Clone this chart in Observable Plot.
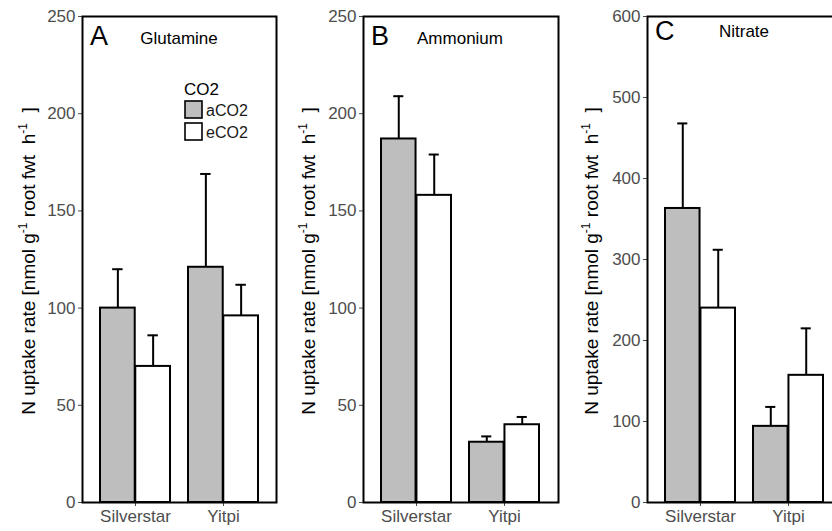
<!DOCTYPE html>
<html><head><meta charset="utf-8">
<script src="https://cdn.jsdelivr.net/npm/d3@7"></script>
<script src="https://cdn.jsdelivr.net/npm/@observablehq/plot@0.6"></script>
<style>
body{margin:0;background:#fff;}
#wrap{position:relative;width:832px;height:531px;overflow:hidden;display:flex;flex-wrap:nowrap;background:#fff;}
#wrap svg{flex:none;display:block;}
</style></head><body><div id="wrap"></div>
<script>
const cultivars = ["Silverstar", "Yitpi"];
const co2Levels = ["aCO2", "eCO2"];
const panelLetters = ["A", "B", "C"];
const panelTitles = ["Glutamine", "Ammonium", "Nitrate"];
const yMax = [250, 250, 600];
const yTicks = [[0, 50, 100, 150, 200, 250], [0, 50, 100, 150, 200, 250], [0, 100, 200, 300, 400, 500, 600]];
// order: Silverstar-aCO2, Silverstar-eCO2, Yitpi-aCO2, Yitpi-eCO2
const glutamineMean = [100, 70, 121, 96];
const glutamineSE = [20, 16, 48, 16];
const ammoniumMean = [187, 158, 31, 40];
const ammoniumSE = [22, 21, 3, 4];
const nitrateMean = [363, 240, 94, 157];
const nitrateSE = [105, 72, 24, 58];
const yLabelParts = ["N uptake rate [nmol g", "-1", " root fwt  h", "-1", "  ]"];

const series = [[glutamineMean, glutamineSE], [ammoniumMean, ammoniumSE], [nitrateMean, nitrateSE]];
const dims = [{width: 280, ml: 82, mr: 4}, {width: 283, ml: 83, mr: 5}, {width: 283, ml: 84, mr: 4}];
const FONT = "Liberation Sans, Arial, Helvetica, sans-serif";
const wrap = document.getElementById("wrap");

series.forEach(([means, ses], k) => {
  const rows = means.map((m, i) => ({cultivar: cultivars[i >> 1], co2: co2Levels[i % 2], mean: m, upper: m + ses[i]}));
  const {width, ml, mr} = dims[k];
  const inner = width - ml - mr;
  const step = inner / 2.2, bw = step * 0.8, half = bw / 2, q = bw / 4;
  const capIn = (bw - 11) / 2;
  const a = rows.filter(d => d.co2 === "aCO2");
  const e = rows.filter(d => d.co2 === "eCO2");
  const svg = Plot.plot({
    width, height: 531, marginLeft: ml, marginRight: mr, marginTop: 16, marginBottom: 29,
    style: {fontFamily: FONT, fontSize: "17px", background: "white", overflow: "visible"},
    x: {domain: cultivars, paddingInner: 0.2, paddingOuter: 0.2, axis: null},
    y: {domain: [0, yMax[k]], axis: null},
    marks: [
      Plot.ruleX(a, {x: "cultivar", y1: "mean", y2: "upper", dx: -q, stroke: "black", strokeWidth: 2}),
      Plot.tickY(a, {x: "cultivar", y: "upper", dx: -q, insetLeft: capIn, insetRight: capIn, stroke: "black", strokeWidth: 2}),
      Plot.ruleX(e, {x: "cultivar", y1: "mean", y2: "upper", dx: q, stroke: "black", strokeWidth: 2}),
      Plot.tickY(e, {x: "cultivar", y: "upper", dx: q, insetLeft: capIn, insetRight: capIn, stroke: "black", strokeWidth: 2}),
      Plot.barY(a, {x: "cultivar", y: "mean", fill: "#bebebe", stroke: "black", strokeWidth: 2, insetLeft: 0, insetRight: half}),
      Plot.barY(e, {x: "cultivar", y: "mean", fill: "white", stroke: "black", strokeWidth: 2, insetLeft: half, insetRight: 0}),
      Plot.axisX({tickSize: 4, tickPadding: 3, color: "#4d4d4d", label: null, fontSize: 17}),
      Plot.axisY({ticks: yTicks[k], tickSize: 4, tickPadding: 3, color: "#4d4d4d", label: null, fontSize: 17}),
      Plot.frame({stroke: "black", strokeWidth: 2})
    ]
  });
  const s = d3.select(svg);
  // y axis label
  const t = s.append("text")
    .attr("transform", `translate(35,261) rotate(-90)`)
    .attr("text-anchor", "middle").attr("font-size", 19).attr("fill", "black")
    .attr("font-family", FONT).style("white-space", "pre");
  yLabelParts.forEach((p, i) => {
    const sup = i % 2 === 1;
    const ts = t.append("tspan").text(p);
    if (sup) ts.attr("font-size", 12).attr("dy", -8);
    else if (i > 0) ts.attr("dy", 8);
  });
  // panel letter and title
  const top = k === 2 ? 40 : 45;
  s.append("text").attr("x", ml + 8).attr("y", top).attr("font-size", 27).attr("text-anchor", "start")
    .attr("font-family", FONT).attr("fill", "black").text(panelLetters[k]);
  s.append("text").attr("x", ml + 97).attr("y", top - (k === 2 ? 3 : 1)).attr("font-size", 17)
    .attr("text-anchor", "middle").attr("font-family", FONT).attr("fill", "black").text(panelTitles[k]);
  if (k === 0) {
    const lg = s.append("g").attr("font-family", FONT).attr("text-anchor", "start");
    lg.append("text").attr("x", 184).attr("y", 95).attr("font-size", 17).attr("fill", "black").text("CO2");
    const fills = ["#bebebe", "white"];
    co2Levels.forEach((lv, i) => {
      lg.append("rect").attr("x", 185).attr("y", 101 + i * 22).attr("width", 17).attr("height", 17)
        .attr("fill", fills[i]).attr("stroke", "black").attr("stroke-width", 1.6);
      lg.append("text").attr("x", 206).attr("y", 116 + i * 22).attr("font-size", 16).attr("fill", "#1a1a1a").text(lv);
    });
  }
  wrap.appendChild(svg);
});
</script></body></html>
